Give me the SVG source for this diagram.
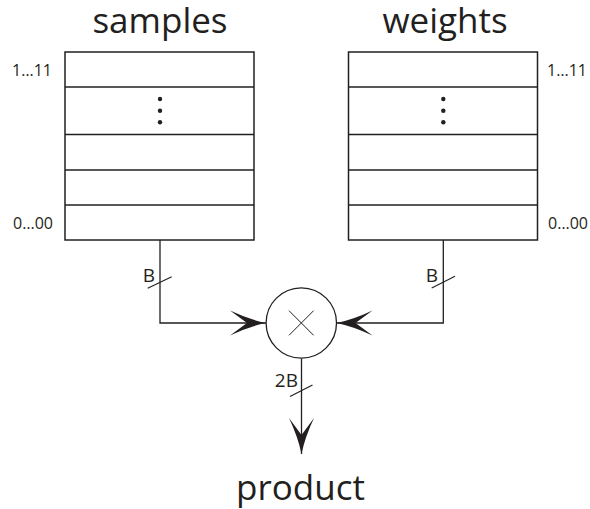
<svg xmlns="http://www.w3.org/2000/svg" width="590" height="509" viewBox="0 0 590 509">
  <style>
    .title { font-family: "Open Sans", "Noto Sans", sans-serif; font-size: 35px; fill: #231f20; text-anchor: middle; }
    .idx { font-family: "Open Sans", "Noto Sans", sans-serif; font-size: 16px; fill: #231f20; }
    .bus { font-family: "Open Sans", "Noto Sans", sans-serif; font-size: 19px; fill: #231f20; text-anchor: end; }
    .reg { fill: #ffffff; stroke: #231f20; stroke-width: 1.5; }
    .row { stroke: #231f20; stroke-width: 1.5; }
    .dot { fill: #231f20; }
    .wire { fill: none; stroke: #231f20; stroke-width: 1.3; }
    .tick { stroke: #231f20; stroke-width: 1.1; }
    .mult { fill: #ffffff; stroke: #231f20; stroke-width: 1.3; }
    .cross { stroke: #231f20; stroke-width: 1; }
  </style>
  <defs>
    <!-- concave barbed arrowhead, tip at the path end -->
    <marker id="head" viewBox="-37 -14 38 28" refX="0" refY="0" markerWidth="38" markerHeight="28" markerUnits="userSpaceOnUse" orient="auto">
      <path d="M0,0 Q-17,-3.5 -36,-12.5 L-19,0 L-36,12.5 Q-17,3.5 0,0 Z" fill="#231f20"/>
    </marker>
  </defs>

  <rect width="590" height="509" fill="#ffffff"/>

  <!-- samples register -->
  <g id="samples">
    <text class="title" x="160" y="33">samples</text>
    <rect class="reg" x="65" y="52" width="189" height="188"/>
    <line class="row" x1="65" y1="87" x2="254" y2="87"/>
    <line class="row" x1="65" y1="134.5" x2="254" y2="134.5"/>
    <line class="row" x1="65" y1="170" x2="254" y2="170"/>
    <line class="row" x1="65" y1="205" x2="254" y2="205"/>
    <circle class="dot" cx="160" cy="99" r="2.2"/>
    <circle class="dot" cx="160" cy="110.7" r="2.2"/>
    <circle class="dot" cx="160" cy="122.3" r="2.2"/>
    <text class="idx" x="52" y="75.5" text-anchor="end">1…11</text>
    <text class="idx" x="53" y="229.3" text-anchor="end">0…00</text>
  </g>

  <!-- weights register -->
  <g id="weights">
    <text class="title" x="445" y="33">weights</text>
    <rect class="reg" x="348.5" y="52" width="189" height="188"/>
    <line class="row" x1="348.5" y1="87" x2="537.5" y2="87"/>
    <line class="row" x1="348.5" y1="134.5" x2="537.5" y2="134.5"/>
    <line class="row" x1="348.5" y1="170" x2="537.5" y2="170"/>
    <line class="row" x1="348.5" y1="205" x2="537.5" y2="205"/>
    <circle class="dot" cx="443.3" cy="99" r="2.2"/>
    <circle class="dot" cx="443.3" cy="110.7" r="2.2"/>
    <circle class="dot" cx="443.3" cy="122.3" r="2.2"/>
    <text class="idx" x="587" y="75.5" text-anchor="end">1…11</text>
    <text class="idx" x="588" y="229.3" text-anchor="end">0…00</text>
  </g>

  <!-- buses into and out of the multiplier -->
  <g id="connectors">
    <path class="wire" d="M160,240 V323 H266" marker-end="url(#head)"/>
    <path class="wire" d="M443.3,240 V323 H336.5" marker-end="url(#head)"/>
    <path class="wire" d="M301.5,358.5 V454" marker-end="url(#head)"/>
    <line class="tick" x1="147.7" y1="288.3" x2="171.7" y2="276.7"/>
    <line class="tick" x1="431.7" y1="288" x2="455" y2="276.3"/>
    <line class="tick" x1="290" y1="396.5" x2="312.5" y2="385"/>
    <text class="bus" x="155" y="281.7">B</text>
    <text class="bus" x="438" y="281.7">B</text>
    <text class="bus" x="298" y="386.7">2B</text>
  </g>

  <!-- multiplier -->
  <g id="multiplier">
    <circle class="mult" cx="301.3" cy="323" r="35.2"/>
    <line class="cross" x1="289" y1="310.7" x2="313.6" y2="335.3"/>
    <line class="cross" x1="313.6" y1="310.7" x2="289" y2="335.3"/>
  </g>

  <g id="product">
    <text class="title" x="300.5" y="500">product</text>
  </g>
</svg>
